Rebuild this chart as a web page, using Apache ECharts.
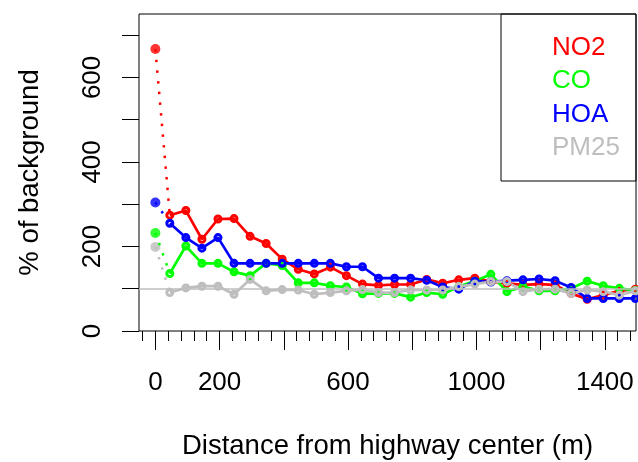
<!DOCTYPE html>
<html>
<head>
<meta charset="utf-8">
<script src="https://cdn.jsdelivr.net/npm/echarts@6/dist/echarts.min.js"></script>
<style>
html,body{margin:0;padding:0;background:#fff;}
#chart{width:638px;height:462px;}
</style>
</head>
<body>
<div id="chart"></div>
<script>
// ---- data ----
const seriesNames = ['NO2', 'CO', 'HOA', 'PM25'];
const distances = [45, 95, 145, 195, 245, 295, 345, 395, 445, 495, 545, 595, 645, 695, 745,
                   795, 845, 895, 945, 995, 1045, 1095, 1145, 1195, 1245, 1295, 1345, 1395, 1445, 1495];
const no2  = [274, 285, 217, 265, 266, 224, 207, 170, 146, 135, 151, 131, 111, 108, 110,
              110, 122, 113, 121, 125, 117, 113, 109, 111, 109, 89, 75, 85, 95, 99];
const co   = [136, 201, 160, 160, 140, 131, 160, 155, 114, 114, 107, 104, 88, 89, 89,
              80, 91, 87, 105, 118, 134, 93, 105, 95, 95, 101, 118, 107, 101, 96];
const hoa  = [255, 221, 196, 221, 160, 160, 160, 160, 160, 160, 160, 152, 152, 125, 125,
              125, 120, 104, 99, 118, 116, 119, 121, 123, 119, 103, 77, 77, 77, 77];
const pm25 = [91, 102, 106, 106, 87, 122, 95, 98, 97, 87, 91, 95, 98, 91, 91,
              97, 97, 97, 105, 111, 117, 117, 93, 99, 99, 89, 97, 93, 85, 95];
const nearDistance = 0;
const nearValues = [667, 232, 304, 199];   // NO2, CO, HOA, PM25 at highway center
const backgroundLevel = 100;

const xTickMinor = [-40, 0, 40, 80, 120, 160, 200, 240, 280, 320, 360, 400, 440, 480, 520, 560,
                    600, 640, 680, 720, 760, 800, 840, 880, 920, 960, 1000, 1040, 1080, 1120,
                    1160, 1200, 1240, 1280, 1320, 1360, 1400, 1440, 1480];
const xTickMajor = [0, 200, 400, 600, 800, 1000, 1200, 1400];
const xTickLabels = [0, 200, 600, 1000, 1400];
const yTicks = [0, 100, 200, 300, 400, 500, 600, 700];
const yTickLabels = [0, 200, 400, 600];

// ---- styles ----
const colors = ['#FF0000', '#00FF00', '#0000FF', '#BEBEBE'];
const FONT = "'Liberation Sans', Arial, Helvetica, sans-serif";
const FS = 26;
const FS_TITLE = 27.5;

const valuesBySeries = [no2, co, hoa, pm25];
const series = [];

// reference line at background level
series.push({
  type: 'line', xAxisIndex: 0, yAxisIndex: 0, data: [], silent: true,
  markLine: {
    silent: true, symbol: ['none', 'none'], label: {show: false},
    lineStyle: {color: '#BEBEBE', width: 1.5, type: 'solid'},
    data: [{yAxis: backgroundLevel}]
  }
});

valuesBySeries.forEach((vals, i) => {
  const c = colors[i];
  // dotted connector from the center point to the first binned point
  series.push({
    name: seriesNames[i] + ' link', type: 'line', xAxisIndex: 0, yAxisIndex: 0,
    data: [[nearDistance, nearValues[i]], [distances[0], vals[0]]],
    showSymbol: false, symbol: 'none', silent: true,
    lineStyle: {color: c, width: 2.5, type: [2.5, 8.2]}
  });
  series.push({
    name: seriesNames[i], type: 'line', xAxisIndex: 0, yAxisIndex: 0,
    data: distances.map((d, j) => [d, vals[j]]),
    symbol: 'circle', symbolSize: 6, showSymbol: true, silent: true,
    itemStyle: {color: 'rgba(255,255,255,0)', borderColor: c, borderWidth: 3},
    lineStyle: {color: c, width: 2.7}
  });
  series.push({
    name: seriesNames[i] + ' center', type: 'scatter', xAxisIndex: 0, yAxisIndex: 0,
    data: [[nearDistance, nearValues[i]]],
    symbol: 'circle', symbolSize: 10, silent: true,
    itemStyle: {color: c}
  });
});

// legend drawn as graphic texts in a box
const legendTop = 48;
const legendStep = 33.3;
const graphics = [{
  type: 'rect', shape: {x: 501, y: 14, width: 135, height: 167},
  style: {fill: 'rgba(0,0,0,0)', stroke: '#000', lineWidth: 1}, z: 10
}];
seriesNames.forEach((n, i) => {
  graphics.push({
    type: 'text', x: 552, y: legendTop + i * legendStep, z: 11,
    style: {text: n, fill: colors[i], font: FS + 'px ' + FONT, textVerticalAlign: 'middle', textAlign: 'left'}
  });
});

const plainNumber = v => String(v);
const xMin = -51, xMax = 1497;
const option = {
  animation: false,
  backgroundColor: '#fff',
  grid: {left: 139, top: 14, width: 497, height: 317, show: true, borderColor: '#000', borderWidth: 1,
         backgroundColor: 'rgba(0,0,0,0)', outerBoundsMode: 'none', containLabel: false},
  xAxis: [{
    type: 'value', min: xMin, max: xMax, position: 'bottom',
    axisLine: {show: false, onZero: false},
    splitLine: {show: false},
    axisTick: {show: true, customValues: xTickMinor, length: 10, lineStyle: {color: '#000', width: 1}},
    axisLabel: {show: false}
  }, {
    type: 'value', min: xMin, max: xMax, position: 'bottom',
    axisLine: {show: false, onZero: false},
    splitLine: {show: false},
    axisTick: {show: true, customValues: xTickMajor, length: 19, lineStyle: {color: '#000', width: 1}},
    axisLabel: {show: true, customValues: xTickLabels, formatter: plainNumber, margin: 39, color: '#000', fontSize: FS, fontFamily: FONT},
    name: 'Distance from highway center (m)', nameLocation: 'middle', nameGap: 101,
    nameTextStyle: {color: '#000', fontSize: FS_TITLE, fontFamily: FONT}
  }],
  yAxis: [{
    type: 'value', min: 0, max: 750,
    axisLine: {show: false, onZero: false},
    splitLine: {show: false},
    axisTick: {show: true, customValues: yTicks, length: 17, lineStyle: {color: '#000', width: 1}},
    axisLabel: {show: true, customValues: yTickLabels, formatter: plainNumber, rotate: 90, margin: 33, color: '#000', fontSize: FS, fontFamily: FONT},
    name: '% of background', nameLocation: 'middle', nameGap: 95, nameRotate: 90,
    nameTextStyle: {color: '#000', fontSize: FS_TITLE, fontFamily: FONT}
  }],
  series: series,
  graphic: graphics
};

const chart = echarts.init(document.getElementById('chart'), null, {renderer: 'canvas'});
chart.setOption(option);
</script>
</body>
</html>
